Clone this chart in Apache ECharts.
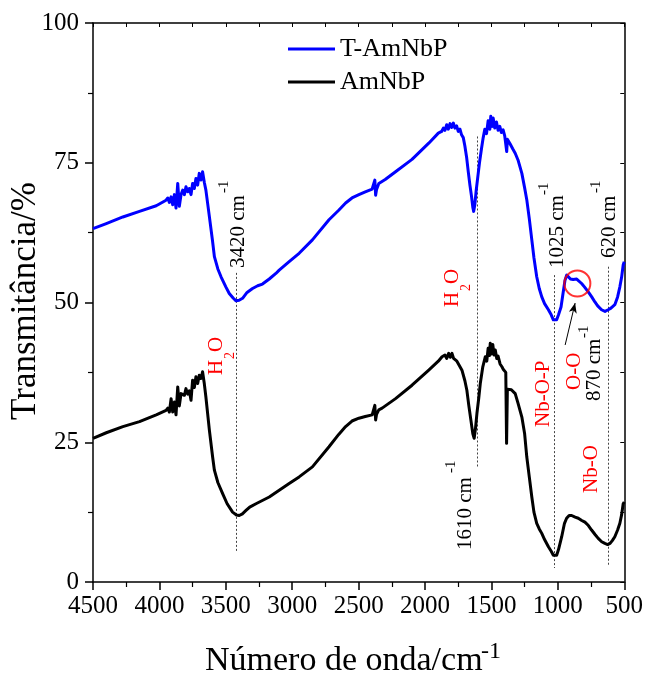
<!DOCTYPE html>
<html>
<head>
<meta charset="utf-8">
<script src="https://cdn.jsdelivr.net/npm/echarts@6/dist/echarts.min.js"></script>
<style>
  html, body { margin: 0; padding: 0; background: #fff; }
  #chart { width: 646px; height: 676px; }
</style>
</head>
<body>
<div id="chart"></div>
<script>
// FTIR spectra: wavenumber (cm-1) vs transmittance (%)
const wavenumbersT = [4500,4400,4275,4150,4024,3950,3937,3925,3912,3900,3887,3875,3862,3850,3837,3825,3812,3800,3787,3775,3762,3750,3737,3725,3712,3700,3687,3675,3662,3650,3624,3600,3586,3560,3536,3500,3474,3445,3423,3400,3374,3340,3299,3260,3224,3173,3123,3098,3023,2948,2848,2723,2650,2598,2550,2498,2450,2398,2385,2378,2372,2365,2348,2300,2222,2098,1972,1900,1875,1862,1850,1837,1825,1812,1800,1787,1775,1762,1750,1737,1725,1712,1700,1687,1675,1662,1650,1640,1634,1625,1615,1600,1590,1575,1562,1550,1537,1525,1512,1505,1495,1487,1475,1462,1450,1437,1425,1412,1400,1390,1385,1380,1360,1340,1321,1300,1271,1250,1234,1215,1196,1180,1159,1140,1121,1100,1071,1050,1034,1020,1009,995,976,960,946,933,921,905,896,885,871,858,850,821,800,771,745,721,700,671,645,621,600,571,550,533,520,508,500];
const transmittanceT = [63.2,64.1,65.3,66.3,67.3,68.3,68.7,67.9,68.9,67.5,69.3,66.9,71.3,67.2,69.3,70.1,69.3,70.7,69.8,70.4,69.3,71.3,70.4,72.2,71.0,73.1,71.9,73.4,71.5,70.1,65.4,61.0,58.2,56.0,54.6,52.8,51.6,50.8,50.3,50.4,50.75,51.8,52.5,53.0,53.3,54.2,55.2,55.8,57.3,58.8,61.2,64.8,66.5,67.8,68.7,69.3,69.8,70.3,70.5,71.9,69.2,70.2,71.3,72.0,73.4,75.6,78.5,80.3,80.6,81.2,80.8,81.8,81.0,82.0,81.3,82.1,81.2,81.6,80.6,81.0,80.0,79.5,78.0,76.0,73.5,71.0,69.0,67.0,66.3,67.5,70.0,73.0,75.0,77.5,79.5,81.0,80.2,82.5,81.0,83.3,81.5,83.0,81.2,82.3,80.8,81.5,80.4,80.9,79.8,79.5,77.0,79.2,78.4,77.5,76.7,75.5,73.1,70.5,68.4,65.0,61.2,58.0,54.6,52.5,51.0,49.8,48.7,47.8,46.9,46.6,46.9,47.8,49.2,51.8,54.0,54.9,54.8,54.2,53.9,54.1,54.2,54.2,53.9,53.4,52.8,51.9,51.0,50.1,49.4,48.7,48.4,48.7,49.0,49.6,51.0,52.8,54.5,56.7,57.3];

const wavenumbersA = [4500,4400,4275,4150,4024,3950,3937,3925,3912,3900,3887,3875,3862,3850,3837,3825,3812,3800,3787,3775,3762,3750,3737,3725,3712,3700,3687,3675,3662,3650,3624,3600,3586,3560,3524,3490,3449,3420,3399,3375,3348,3320,3273,3173,3098,3023,2948,2848,2723,2650,2598,2550,2498,2450,2398,2385,2378,2372,2365,2348,2323,2222,2098,1972,1900,1872,1850,1837,1822,1810,1797,1785,1772,1760,1745,1722,1700,1685,1670,1655,1640,1630,1620,1609,1595,1584,1565,1546,1535,1525,1515,1509,1500,1490,1480,1471,1460,1450,1435,1421,1410,1392,1386,1380,1371,1350,1321,1300,1271,1250,1234,1215,1196,1180,1159,1140,1121,1100,1071,1050,1034,1020,1009,995,971,950,934,915,896,870,846,820,796,770,746,720,696,670,646,625,608,590,571,550,533,520,508,500];
const transmittanceA = [25.7,26.7,27.8,28.7,29.9,30.7,31.1,30.4,32.8,30.4,32.2,29.9,34.9,31.5,33.7,34.0,33.4,34.6,33.6,34.2,32.5,36.1,34.8,36.7,35.5,37.0,36.4,37.6,35.5,33.1,27.2,22.5,20.0,17.8,15.8,14.0,12.5,12.0,11.9,12.2,12.8,13.4,14.0,15.2,16.4,17.6,18.8,20.6,24.2,26.4,27.8,28.8,29.3,29.6,29.9,30.1,31.6,29.0,30.0,30.8,31.1,32.8,35.2,37.9,39.5,40.3,40.6,40.0,40.9,40.2,40.9,40.0,40.3,39.5,39.6,37.9,36.0,34.3,31.5,29.0,26.5,25.7,27.5,30.2,33.0,35.5,38.5,40.3,39.5,41.8,40.5,42.7,40.8,42.5,40.6,41.5,40.0,40.4,39.0,38.5,38.0,37.5,24.8,34.5,34.6,34.4,33.7,32.0,29.5,26.5,22.4,18.8,15.2,12.5,10.5,9.5,8.7,7.6,6.3,5.5,4.8,4.6,4.8,5.8,8.1,10.5,11.4,11.9,11.9,11.6,11.4,11.0,10.7,10.1,9.3,8.5,7.8,7.2,6.9,6.7,6.9,7.4,8.1,9.3,10.5,12.0,14.0,14.3];

// Assigned bands: vertical guide at each wavenumber, spanning [top, bottom] in %
const bandWavenumbers = [3420, 1610, 1025, 620];
const bandTop = [55.3, 79.7, 54.9, 56.4];
const bandBottom = [5.4, 20.4, 2.5, 3.0];

// Highlighted O-O shoulder on T-AmNbP and its pointer
const shoulderPoint = [853, 53.4];
const pointerFrom = [945, 42.4];
const pointerTo = [870, 49.9];

const xTicks = { min: 500, max: 4500, step: 500 };
const yTicks = { min: 0, max: 100, step: 25 };

const FONT = "'Liberation Serif', 'Times New Roman', serif";
const zip = (xs, ys) => xs.map((x, i) => [x, ys[i]]);

function vText(x, y, text, size, color) {
  return {
    type: 'text', x: x, y: y, rotation: Math.PI / 2, silent: true, z: 100,
    style: { text: text, fontSize: size, fontFamily: FONT, fill: color, align: 'left', verticalAlign: 'middle' }
  };
}

const RED = '#ff0000';
const graphics = [
  // axis titles
  { type: 'text', x: 26, y: 301, rotation: Math.PI / 2, silent: true,
    style: { text: 'Transmitância/%', fontSize: 35, fontFamily: FONT, fill: '#000', align: 'center', verticalAlign: 'middle' } },
  { type: 'text', x: 205, y: 661, silent: true,
    style: { text: 'Número de onda/cm', fontSize: 34, fontFamily: FONT, fill: '#000', align: 'left', verticalAlign: 'middle' } },
  { type: 'text', x: 481, y: 652, silent: true,
    style: { text: '-1', fontSize: 24, fontFamily: FONT, fill: '#000', align: 'left', verticalAlign: 'middle' } },
  // band positions
  vText(238.5, 268, '3420 cm', 21, '#000'), vText(224, 193, '-1', 15, '#000'),
  vText(557, 268, '1025 cm', 21, '#000'), vText(544, 195, '-1', 15, '#000'),
  vText(609.5, 258, '620 cm', 21, '#000'), vText(596.5, 193, '-1', 15, '#000'),
  vText(465, 550, '1610 cm', 21, '#000'), vText(451, 473, '-1', 15, '#000'),
  vText(594, 401, '870 cm', 21, '#000'), vText(584, 338, '-1', 15, '#000'),
  // assignments
  vText(543, 427, 'Nb-O-P', 21, RED),
  vText(574.5, 390, 'O-O', 21, RED),
  vText(591.5, 493, 'Nb-O', 21, RED),
  vText(452, 307, 'H', 21, RED), vText(466, 291, '2', 14, RED), vText(452, 284, 'O', 21, RED),
  vText(216.5, 375, 'H', 21, RED), vText(230.5, 359, '2', 14, RED), vText(216.5, 352, 'O', 21, RED)
];

const guideStyle = { color: '#444', width: 1, type: [2, 2] };
const markLines = bandWavenumbers.map((wn, i) => [
  { coord: [wn, bandTop[i]], symbol: 'none', lineStyle: guideStyle },
  { coord: [wn, bandBottom[i]], symbol: 'none' }
]);
markLines.push([
  { coord: pointerFrom, symbol: 'none', lineStyle: { color: '#000', width: 1, type: 'solid' } },
  { coord: pointerTo, symbol: 'arrow', symbolSize: [6, 10] }
]);

const chart = echarts.init(document.getElementById('chart'), null, { renderer: 'canvas' });

const axisBlack = { color: '#000', width: 1.5 };
const plainNumber = (v) => String(v);
chart.setOption({
  animation: false,
  backgroundColor: '#fff',
  textStyle: { fontFamily: FONT },
  grid: { left: 93, right: 20, top: 23, bottom: 94, containLabel: false },
  legend: {
    data: ['T-AmNbP', 'AmNbP'],
    orient: 'vertical', left: 288, top: 36, padding: 0,
    icon: 'rect', itemWidth: 47, itemHeight: 3, itemGap: 7,
    textStyle: { fontFamily: FONT, fontSize: 26, color: '#000' },
    selectedMode: false
  },
  xAxis: [
    {
      type: 'value', position: 'bottom', inverse: true,
      min: xTicks.min, max: xTicks.max, interval: xTicks.step,
      axisLine: { show: true, onZero: false, lineStyle: axisBlack },
      axisTick: { show: true, inside: false, length: 8, lineStyle: axisBlack },
      minorTick: { show: true, splitNumber: 2, length: 5, lineStyle: { color: '#000', width: 1.2 } },
      axisLabel: { fontFamily: FONT, fontSize: 25, color: '#000', margin: 12, showMinLabel: true, showMaxLabel: true, formatter: plainNumber },
      splitLine: { show: false }
    },
    {
      type: 'value', position: 'top', inverse: true,
      min: xTicks.min, max: xTicks.max, interval: xTicks.step / 2,
      axisLine: { show: true, onZero: false, lineStyle: axisBlack },
      axisTick: { show: true, inside: true, length: 4, lineStyle: { color: '#000', width: 1 } },
      axisLabel: { show: false },
      splitLine: { show: false }
    }
  ],
  yAxis: [
    {
      type: 'value', position: 'left',
      min: yTicks.min, max: yTicks.max, interval: yTicks.step,
      axisLine: { show: true, onZero: false, lineStyle: axisBlack },
      axisTick: { show: true, inside: false, length: 8, lineStyle: axisBlack },
      minorTick: { show: true, splitNumber: 2, length: 5, lineStyle: { color: '#000', width: 1.2 } },
      axisLabel: { fontFamily: FONT, fontSize: 25, color: '#000', margin: 14, formatter: plainNumber },
      splitLine: { show: false }
    },
    {
      type: 'value', position: 'right',
      min: yTicks.min, max: yTicks.max, interval: yTicks.step / 2,
      axisLine: { show: true, onZero: false, lineStyle: axisBlack },
      axisTick: { show: true, inside: true, length: 4, lineStyle: { color: '#000', width: 1 } },
      axisLabel: { show: false },
      splitLine: { show: false }
    }
  ],
  series: [
    {
      name: 'T-AmNbP', type: 'line', xAxisIndex: 0, yAxisIndex: 0,
      data: zip(wavenumbersT, transmittanceT),
      showSymbol: false, symbol: 'none', silent: true, z: 3,
      lineStyle: { color: '#0000ff', width: 3, join: 'round' },
      itemStyle: { color: '#0000ff' }
    },
    {
      name: 'AmNbP', type: 'line', xAxisIndex: 0, yAxisIndex: 0,
      data: zip(wavenumbersA, transmittanceA),
      showSymbol: false, symbol: 'none', silent: true, z: 3,
      lineStyle: { color: '#000000', width: 3, join: 'round' },
      itemStyle: { color: '#000000' }
    },
    {
      name: 'O-O shoulder', type: 'scatter', xAxisIndex: 0, yAxisIndex: 0,
      data: [shoulderPoint], symbol: 'circle', symbolSize: 26, silent: true, z: 5,
      itemStyle: { color: 'rgba(0,0,0,0)', borderColor: RED, borderWidth: 2 },
      markLine: { silent: true, animation: false, label: { show: false }, data: markLines, z: 2 }
    }
  ],
  graphic: graphics
});
</script>
</body>
</html>
